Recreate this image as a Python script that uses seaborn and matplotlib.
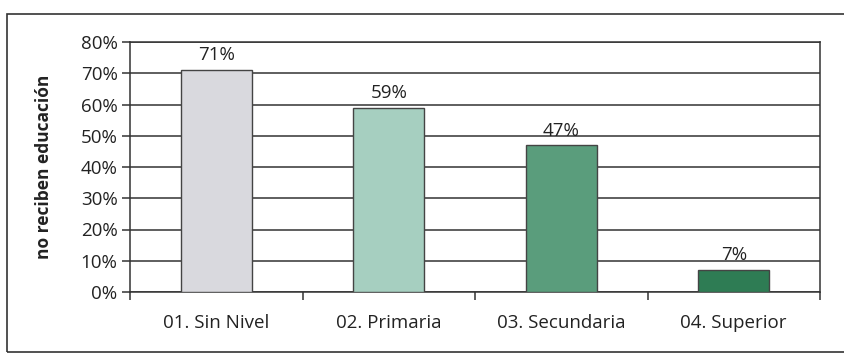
import matplotlib
matplotlib.use("Agg")
import matplotlib.pyplot as plt
import seaborn as sns
import pandas as pd
from matplotlib.patches import Rectangle
from matplotlib.ticker import FuncFormatter

categories = ["01. Sin Nivel", "02. Primaria", "03. Secundaria", "04. Superior"]
values = [71, 59, 47, 7]
bar_colors = ["#d9d9de", "#a6cfc0", "#5a9d7c", "#2e7c54"]
y_label = "no reciben educación"

df = pd.DataFrame({"nivel": categories, "pct": values})

sns.set_theme(style="white")
plt.rcParams["font.family"] = ["Open Sans", "DejaVu Sans"]

W, H = 844, 358
fig = plt.figure(figsize=(W / 100, H / 100), dpi=100)
fig.patch.set_facecolor("white")

# outer frame (open on the right)
frame = Rectangle((7 / W, 1 - 352 / H), 860 / W, (352 - 14) / H,
                  transform=fig.transFigure, fill=False,
                  edgecolor="#333333", linewidth=1.2)
fig.patches.append(frame)

ax = fig.add_axes([130 / W, 1 - 292 / H, (820 - 130) / W, (292 - 42) / H])

sns.barplot(data=df, x="nivel", y="pct", hue="nivel", palette=bar_colors,
            saturation=1, legend=False, width=0.41, edgecolor="#444444",
            linewidth=1.0, ax=ax, zorder=3)

ax.set_ylim(0, 80)
ax.set_xlim(-0.5, 3.5)
ax.set_yticks(range(0, 81, 10))
ax.yaxis.set_major_formatter(FuncFormatter(lambda v, p: f"{int(v)}%"))
ax.grid(axis="y", color="#333333", linewidth=1.1, zorder=0)
ax.set_axisbelow(True)

for side in ["left", "right", "top", "bottom"]:
    ax.spines[side].set_visible(True)
    ax.spines[side].set_color("#333333")
    ax.spines[side].set_linewidth(1.1)

# x tick marks at category boundaries, labels centred under bars
ax.set_xticks([0, 1, 2, 3])
ax.set_xticklabels(categories)
ax.set_xticks([-0.5, 0.5, 1.5, 2.5, 3.5], minor=True)
ax.tick_params(axis="x", which="major", length=0, pad=16, labelsize=13.5,
               labelcolor="#222222")
ax.tick_params(axis="x", which="minor", length=6, width=1.1, color="#333333",
               direction="out", bottom=True)
ax.tick_params(axis="y", length=6, width=1.1, color="#333333", direction="out",
               left=True, pad=3, labelsize=13.5, labelcolor="#222222")

ax.set_xlabel("")
ax.set_ylabel(y_label, fontsize=12.5, fontweight="bold", color="#222222",
              labelpad=20)

for i, v in enumerate(values):
    ax.text(i, v + 1.8, f"{v}%", ha="center", va="bottom", fontsize=13.5,
            color="#222222")

fig.savefig("out.png", dpi=100, facecolor="white")
